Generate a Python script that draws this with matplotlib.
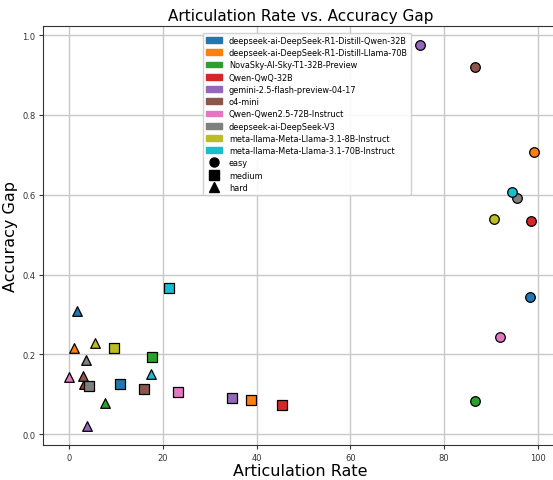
import matplotlib.pyplot as plt
from matplotlib.patches import Patch
from matplotlib.lines import Line2D

models = [
    "deepseek-ai-DeepSeek-R1-Distill-Qwen-32B",
    "deepseek-ai-DeepSeek-R1-Distill-Llama-70B",
    "NovaSky-AI-Sky-T1-32B-Preview",
    "Qwen-QwQ-32B",
    "gemini-2.5-flash-preview-04-17",
    "o4-mini",
    "Qwen-Qwen2.5-72B-Instruct",
    "deepseek-ai-DeepSeek-V3",
    "meta-llama-Meta-Llama-3.1-8B-Instruct",
    "meta-llama-Meta-Llama-3.1-70B-Instruct",
]
difficulties = ["easy", "medium", "hard"]

# articulation rate / accuracy gap per model, one list per difficulty
easy_rate = [98.4, 99.3, 86.5, 98.6, 74.8, 86.5, 91.9, 95.6, 90.6, 94.6]
easy_gap = [0.343, 0.708, 0.084, 0.535, 0.976, 0.920, 0.243, 0.592, 0.539, 0.606]
medium_rate = [10.8, 38.7, 17.7, 45.4, 34.8, 16.0, 23.1, 4.2, 9.5, 21.3]
medium_gap = [0.125, 0.086, 0.194, 0.073, 0.090, 0.112, 0.106, 0.120, 0.217, 0.366]
hard_rate = [1.7, 0.9, 7.7, 3.1, 3.7, 3.0, -0.1, 3.5, 5.4, 17.5]
hard_gap = [0.309, 0.215, 0.077, 0.125, 0.021, 0.146, 0.144, 0.185, 0.228, 0.150]

colors = plt.cm.tab10.colors
markers = {"easy": "o", "medium": "s", "hard": "^"}
data = {
    "easy": (easy_rate, easy_gap),
    "medium": (medium_rate, medium_gap),
    "hard": (hard_rate, hard_gap),
}

fig = plt.figure(figsize=(5.53, 4.81), dpi=100)
ax = fig.add_axes([0.078, 0.073, 0.93, 0.871])

for diff in ["hard", "medium", "easy"]:
    xs, ys = data[diff]
    for i in range(len(models)):
        ax.scatter(xs[i], ys[i], color=colors[i], marker=markers[diff],
                   s=48, edgecolors="black", linewidths=0.9, zorder=3)

ax.set_xlim(-5.6, 104.2)
ax.set_ylim(-0.027, 1.023)
ax.grid(True, color="#c8c8c8", linewidth=1)
ax.set_axisbelow(True)
ax.tick_params(labelsize=6, colors="#333333", length=3, pad=2.5)
for sp in ax.spines.values():
    sp.set_color("#333333")

ax.set_title("Articulation Rate vs. Accuracy Gap", fontsize=11, pad=4)
ax.set_xlabel("Articulation Rate", fontsize=11.5, labelpad=1)
ax.set_ylabel("Accuracy Gap", fontsize=11.5, labelpad=3)

handles = [Patch(color=colors[i], label=m) for i, m in enumerate(models)]
handles += [Line2D([0], [0], marker=markers[d], color="black", linestyle="",
                   markersize=6.5, label=d) for d in difficulties]
ax.legend(handles=handles, loc="upper center", fontsize=5.85,
          bbox_to_anchor=(0.513, 0.99), borderaxespad=0.3, framealpha=0.9,
          labelspacing=0.4)

fig.savefig("out.png", dpi=100)
